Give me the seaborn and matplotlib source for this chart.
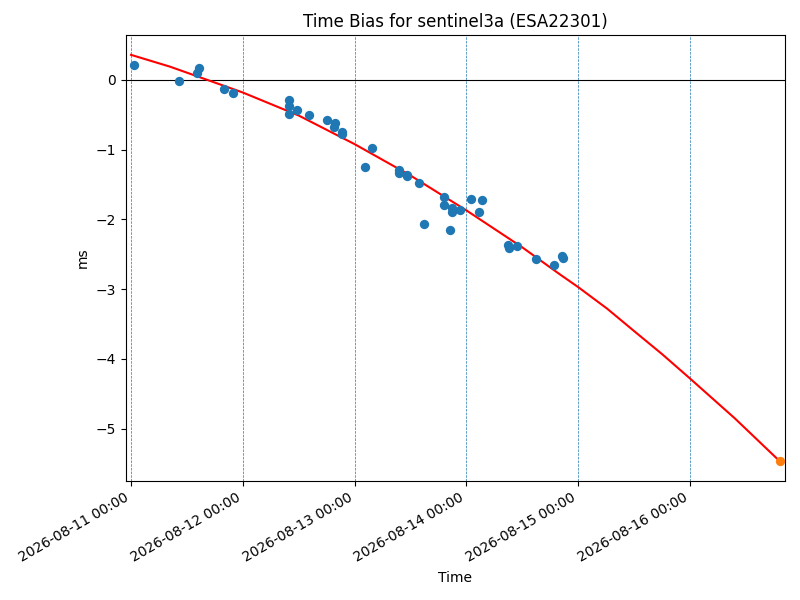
import pandas as pd
import matplotlib
matplotlib.use('Agg')
import matplotlib.pyplot as plt
import matplotlib.dates as mdates
import seaborn as sns

# measured time bias samples
obs_times = [
    "2026-08-11 00:43", "2026-08-11 10:19", "2026-08-11 14:10", "2026-08-11 14:38",
    "2026-08-11 20:02", "2026-08-11 21:50", "2026-08-12 09:55", "2026-08-12 10:00",
    "2026-08-12 09:58", "2026-08-12 11:43", "2026-08-12 14:10", "2026-08-12 18:09",
    "2026-08-12 19:48", "2026-08-12 19:39", "2026-08-12 21:22", "2026-08-12 21:20",
    "2026-08-13 02:18", "2026-08-13 03:50", "2026-08-13 09:36", "2026-08-13 09:38",
    "2026-08-13 11:17", "2026-08-13 11:15", "2026-08-13 13:55", "2026-08-13 14:53",
    "2026-08-13 19:12", "2026-08-13 19:12", "2026-08-13 20:28", "2026-08-13 20:50",
    "2026-08-13 20:50", "2026-08-13 22:34", "2026-08-14 00:58", "2026-08-14 02:38",
    "2026-08-14 03:22", "2026-08-14 09:00", "2026-08-14 09:14", "2026-08-14 10:48",
    "2026-08-14 14:53", "2026-08-14 18:43", "2026-08-14 20:38", "2026-08-14 20:36",
]
obs_bias = [
    0.215, -0.02, 0.095, 0.17,
    -0.13, -0.18, -0.29, -0.38,
    -0.49, -0.43, -0.50, -0.57,
    -0.61, -0.67, -0.74, -0.77,
    -1.25, -0.98, -1.29, -1.34,
    -1.38, -1.36, -1.48, -2.07,
    -1.68, -1.79, -2.15, -1.83,
    -1.89, -1.87, -1.70, -1.89,
    -1.72, -2.37, -2.41, -2.38,
    -2.57, -2.66, -2.55, -2.53,
]

# fitted trend
fit_times = [
    "2026-08-11 00:00", "2026-08-11 08:24", "2026-08-12 00:00", "2026-08-12 12:00",
    "2026-08-13 00:00", "2026-08-13 12:00", "2026-08-14 00:00", "2026-08-14 12:00",
    "2026-08-14 19:55", "2026-08-15 00:00", "2026-08-15 06:14", "2026-08-15 12:00",
    "2026-08-15 18:00", "2026-08-16 00:00", "2026-08-16 09:36", "2026-08-16 19:20",
]
fit_bias = [0.36, 0.19, -0.18, -0.51,
            -0.92, -1.37, -1.87, -2.40,
            -2.78, -2.97, -3.28, -3.60,
            -3.93, -4.28, -4.85, -5.47]

# predicted point
pred_time = ["2026-08-16 19:20"]
pred_bias = [-5.47]

day_lines = ["2026-08-11", "2026-08-12", "2026-08-13", "2026-08-14", "2026-08-15", "2026-08-16"]

obs = pd.DataFrame({'time': pd.to_datetime(obs_times), 'bias': obs_bias})
fit = pd.DataFrame({'time': pd.to_datetime(fit_times), 'bias': fit_bias})
pred = pd.DataFrame({'time': pd.to_datetime(pred_time), 'bias': pred_bias})

fig, ax = plt.subplots(figsize=(8, 6), dpi=100)
fig.subplots_adjust(left=0.1575, right=0.98125, top=0.9417, bottom=0.1983)

for d in pd.to_datetime(day_lines):
    ax.axvline(d, color='C0', linestyle='--', linewidth=0.5)
ax.axhline(0, color='black', linewidth=0.8)

sns.lineplot(data=fit, x='time', y='bias', color='red', ax=ax, zorder=3)
sns.scatterplot(data=obs, x='time', y='bias', color='C0', s=45, linewidth=0, ax=ax, zorder=4)
sns.scatterplot(data=pred, x='time', y='bias', color='C1', s=45, linewidth=0, ax=ax, zorder=4)

ax.set_xlim(pd.Timestamp("2026-08-10 22:55"), pd.Timestamp("2026-08-16 20:24"))
ax.set_ylim(-5.75, 0.645)
ax.xaxis.set_major_locator(mdates.DayLocator())
ax.xaxis.set_major_formatter(mdates.DateFormatter('%Y-%m-%d %H:%M'))
ax.set_title('Time Bias for sentinel3a (ESA22301)')
ax.set_xlabel('Time')
ax.set_ylabel('ms')
plt.setp(ax.get_xticklabels(), rotation=30, ha='right')
fig.savefig('out.png')
